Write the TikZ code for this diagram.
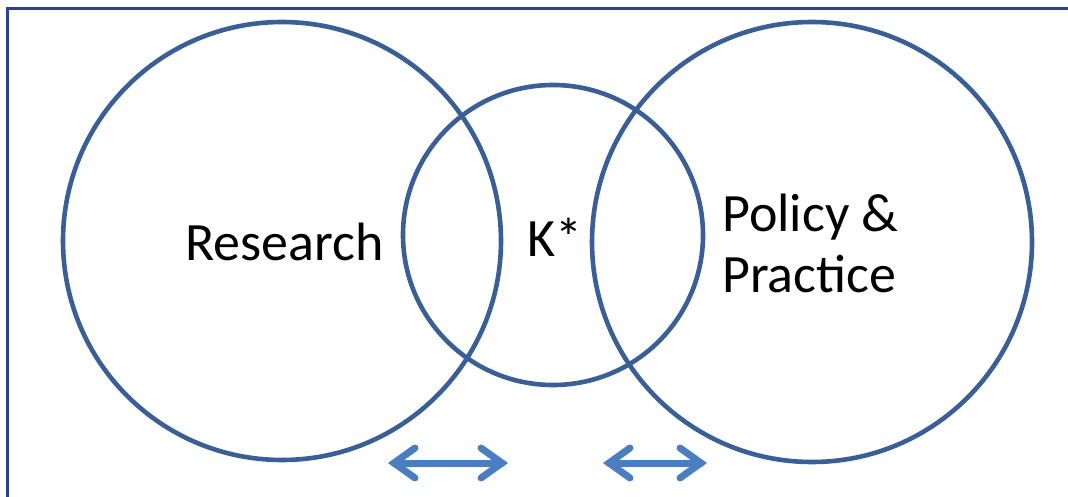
\documentclass[tikz,border=0pt]{standalone}
\usepackage{fontspec}
\setmainfont{Carlito}
\usetikzlibrary{calc}
\definecolor{ringblue}{RGB}{58,95,150}
\definecolor{arrowblue}{RGB}{74,126,193}
\definecolor{frameblue}{RGB}{46,64,150}
\tikzset{
  ring/.style={draw=ringblue, line width=4.6pt},
  lbl/.style={anchor=base west, inner sep=0pt, font=\fontsize{54}{60}\selectfont, text=black},
  dblarrow/.style={draw=arrowblue, line width=7pt, line cap=round, line join=miter},
}
\begin{document}
\begin{tikzpicture}[x=1pt,y=-1pt]
\useasboundingbox (0,0) rectangle (1068,497);
\fill[white] (0,0) rectangle (1068,497);
% frame
\draw[frameblue, line width=3pt] (7.5,497) -- (7.5,8.5) -- (1068,8.5);
% circles
\coordinate (cl) at (282,241);
\coordinate (cm) at (553,235);
\coordinate (cr) at (812,242);
\draw[ring] (cl) circle (219);
\draw[ring] (cm) circle (150);
\draw[ring] (cr) circle (220);
% labels
\node[lbl] (research) at (185,260) {Research};
\node[lbl] (kstar) at (527,256) {K*};
\node[lbl] (policy) at (722,231) {Policy \&};
\node[lbl] (practice) at (722,292) {Practice};
% arrows
\coordinate (a1) at (394,463);
\coordinate (a2) at (502,463);
\coordinate (b1) at (609,463);
\coordinate (b2) at (701,463);
\foreach \p/\q in {a1/a2, b1/b2}{
  \draw[dblarrow] (\p) -- (\q);
  \draw[dblarrow] ($(\p)+(21,-15)$) -- (\p) -- ($(\p)+(21,15)$);
  \draw[dblarrow] ($(\q)+(-21,-15)$) -- (\q) -- ($(\q)+(-21,15)$);
}
\end{tikzpicture}
\end{document}
